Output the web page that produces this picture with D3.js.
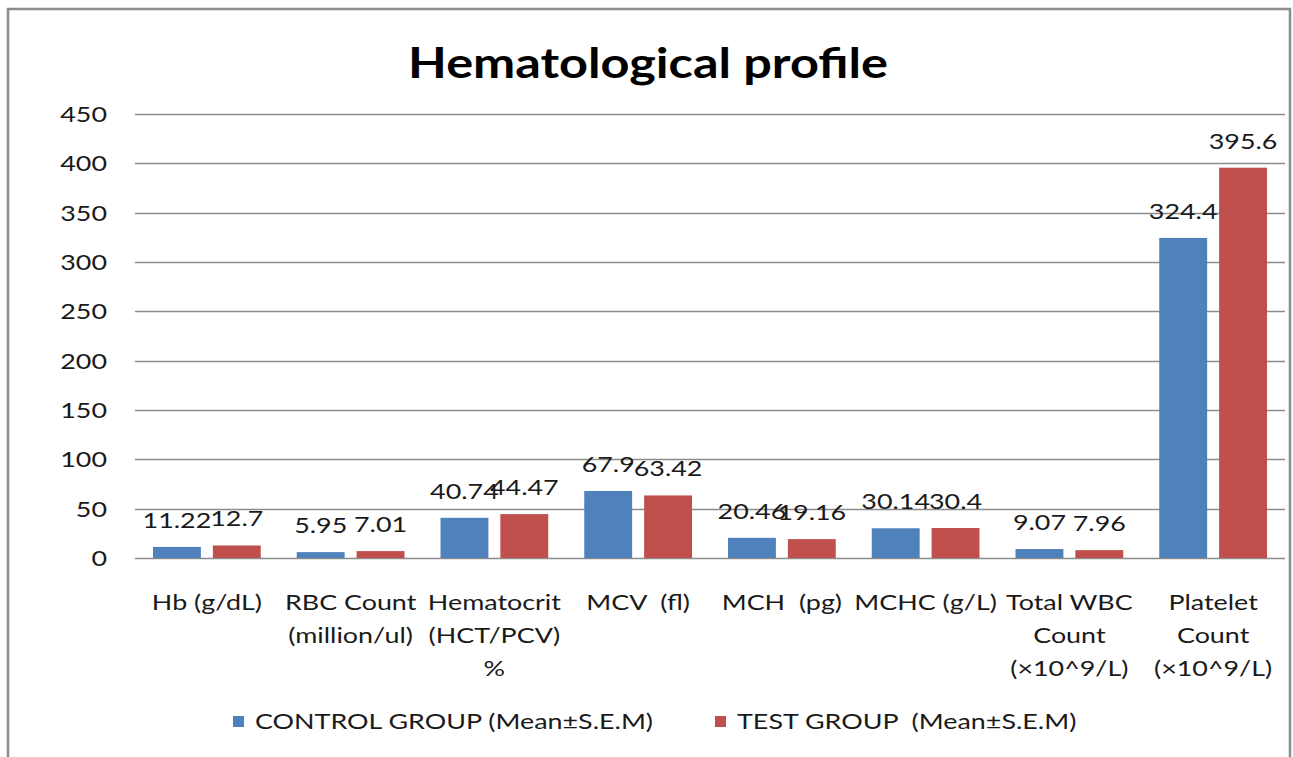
<!doctype html>
<html lang="en">
<head>
<meta charset="utf-8">
<title>Hematological profile</title>
<script src="https://cdnjs.cloudflare.com/ajax/libs/d3/7.8.5/d3.min.js"></script>
<style>
  body { margin: 0; background: #fff; overflow: hidden; }
  text { font-family: Lato, "Open Sans", sans-serif; fill: #1a1a1a; white-space: pre; }
</style>
</head>
<body>
<script>
// chart data
const categories = [
  "Hb (g/dL)",
  "RBC Count\n(million/ul)",
  "Hematocrit\n(HCT/PCV)\n%",
  "MCV  (fl)",
  "MCH  (pg)",
  "MCHC (g/L)",
  "Total WBC\nCount\n(×10^9/L)",
  "Platelet\nCount\n(×10^9/L)"
];
const controlValues = [11.22, 5.95, 40.74, 67.9, 20.46, 30.14, 9.07, 324.4];
const testValues = [12.7, 7.01, 44.47, 63.42, 19.16, 30.4, 7.96, 395.6];
const seriesNames = ["CONTROL GROUP (Mean±S.E.M)", "TEST GROUP  (Mean±S.E.M)"];
const seriesColors = ["#4f81bd", "#c0504d"];
const yTicks = [0, 50, 100, 150, 200, 250, 300, 350, 400, 450];

const W = 1293, H = 757;
const plot = { left: 135, right: 1285, top: 114, bottom: 558 };
const SX = 1.28; // the source picture is stretched sideways

const svg = d3.select("body").append("svg")
  .attr("width", W).attr("height", H);

// place text with the sideways stretch
function put(sel, x, y, sx) {
  return sel.attr("transform", (d, i) => {
    const xx = typeof x === "function" ? x(d, i) : x;
    const yy = typeof y === "function" ? y(d, i) : y;
    return `translate(${xx},${yy}) scale(${sx || SX},1)`;
  });
}

// outer chart frame
svg.append("rect")
  .attr("x", 8).attr("y", 9)
  .attr("width", 1282).attr("height", 780)
  .attr("fill", "none")
  .attr("stroke", "#8c8c8c")
  .attr("stroke-width", 2.5);

put(svg.append("text"), 648, 78, 1.2)
  .attr("text-anchor", "middle")
  .style("font-size", "42px")
  .style("font-weight", "bold")
  .style("fill", "#000")
  .text("Hematological profile");

const y = d3.scaleLinear().domain([0, 450]).range([plot.bottom, plot.top]);
const x0 = d3.scaleBand().domain(categories).range([plot.left, plot.right]);
const x1 = d3.scaleBand().domain([0, 1])
  .range([18, x0.bandwidth() - 18]).paddingInner(0.2);

// gridlines
svg.append("g").selectAll("line")
  .data(yTicks).join("line")
  .attr("x1", plot.left).attr("x2", plot.right)
  .attr("y1", d => Math.round(y(d)) + 0.5).attr("y2", d => Math.round(y(d)) + 0.5)
  .attr("stroke", "#8c8c8c").attr("stroke-width", 1.3);

// y tick labels
put(svg.append("g").selectAll("text")
  .data(yTicks).join("text"), 107, d => y(d) + 8)
  .attr("text-anchor", "end")
  .style("font-size", "21px")
  .text(d => d);

const series = [controlValues, testValues];

const groups = svg.append("g").selectAll("g")
  .data(categories).join("g")
  .attr("transform", d => `translate(${x0(d)},0)`);

groups.selectAll("rect")
  .data((d, i) => series.map((s, k) => ({ k, v: s[i] })))
  .join("rect")
  .attr("x", d => x1(d.k))
  .attr("width", x1.bandwidth())
  .attr("y", d => y(d.v))
  .attr("height", d => y(0) - y(d.v))
  .attr("fill", d => seriesColors[d.k]);

put(groups.selectAll("text.val")
  .data((d, i) => series.map((s, k) => ({ k, v: s[i] })))
  .join("text")
  .attr("class", "val"),
  d => x1(d.k) + x1.bandwidth() / 2, d => y(d.v) - 19)
  .attr("text-anchor", "middle")
  .style("font-size", "21px")
  .text(d => d.v);

// category labels
put(groups.selectAll("text.cat")
  .data(d => d.split("\n"))
  .join("text")
  .attr("class", "cat"),
  x0.bandwidth() / 2, (d, i) => 610 + i * 33)
  .attr("text-anchor", "middle")
  .style("font-size", "21px")
  .text(d => d);

// legend
const legendX = [233, 715];
const legend = svg.append("g").selectAll("g")
  .data(seriesNames).join("g")
  .attr("transform", (d, i) => `translate(${legendX[i]},716)`);
legend.append("rect")
  .attr("width", 11).attr("height", 11)
  .attr("fill", (d, i) => seriesColors[i]);
put(legend.append("text"), 22, 13)
  .style("font-size", "21px")
  .text(d => d);
</script>
</body>
</html>
